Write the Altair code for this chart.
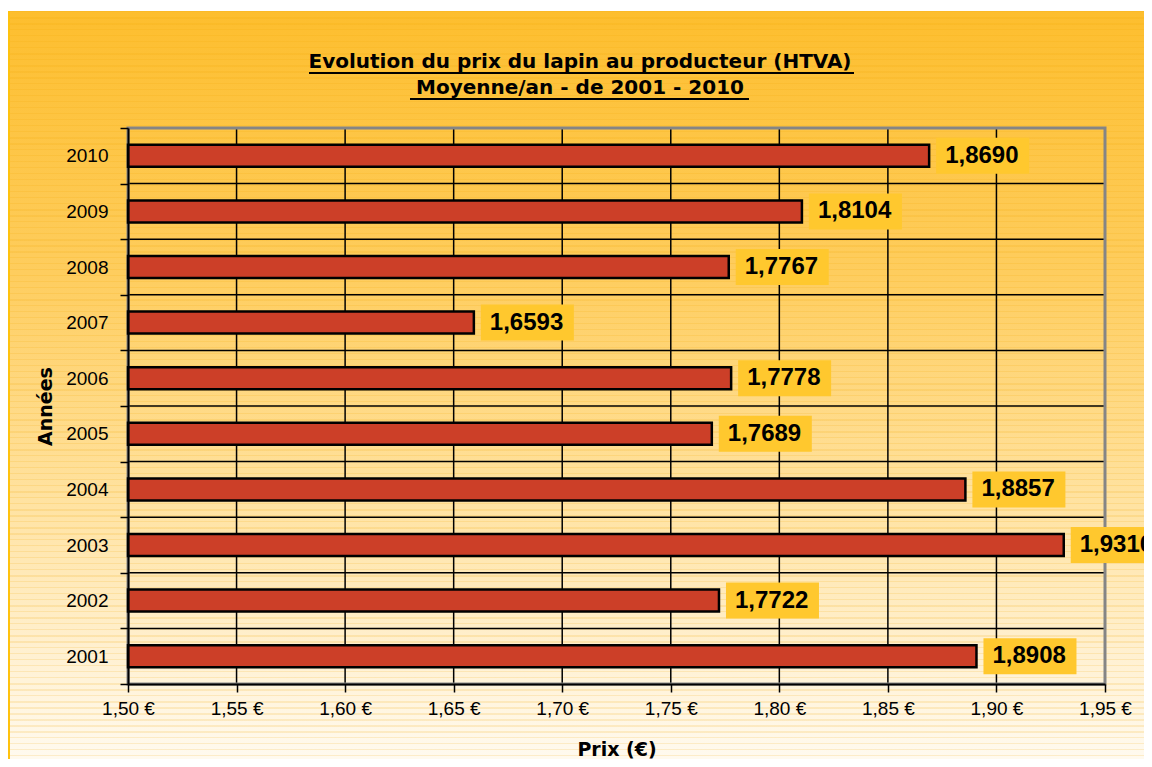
import altair as alt
import pandas as pd

# ---- data ----
years = ["2001", "2002", "2003", "2004", "2005", "2006", "2007", "2008", "2009", "2010"]
prices = [1.8908, 1.7722, 1.9310, 1.8857, 1.7689, 1.7778, 1.6593, 1.7767, 1.8104, 1.8690]
x_ticks = [1.50, 1.55, 1.60, 1.65, 1.70, 1.75, 1.80, 1.85, 1.90, 1.95]
title_lines = ["Evolution du prix du lapin au producteur (HTVA)", "Moyenne/an - de 2001 - 2010"]

# ---- layout / style ----
W, H = 977, 556
PL, PT, PR, PB = 120, 120, 39, 75
BAR_RED = "#CC3F28"
BOX_YELLOW = "#FFC82E"

df = pd.DataFrame({"year": years, "price": prices})
ticks_df = pd.DataFrame({"tick": x_ticks})
one = pd.DataFrame({"k": [0]})

x_scale = alt.Scale(domain=[1.5, 1.95], zero=False, nice=False)
y_scale = alt.Scale(domain=years[::-1], paddingInner=0, paddingOuter=0)

X_AX = alt.Axis(
    values=x_ticks,
    labelExpr="replace(format(datum.value, '.2f'), '.', ',') + ' €'",
    title="Prix (€)", grid=False, labelOverlap=False, labelFlush=False,
    domainColor="black", domainWidth=2, tickColor="black", tickWidth=1.5, tickSize=8,
    labelFont="Liberation Sans", labelFontSize=19, labelColor="black", labelPadding=7,
    titleFont="DejaVu Sans", titleFontSize=19, titleFontWeight="bold", titleColor="black",
    titlePadding=22, zindex=1,
)
Y_AX = alt.Axis(
    title="Années", grid=False, tickBand="extent", labelAngle=0,
    domainColor="black", domainWidth=2, tickColor="black", tickWidth=1.5, tickSize=8,
    labelFont="Liberation Sans", labelFontSize=19, labelColor="black", labelPadding=12,
    titleFont="DejaVu Sans", titleFontSize=19, titleFontWeight="bold", titleColor="black",
    titlePadding=10, zindex=1,
)

# background gradient (whole chart) + faint horizontal stripes
BG_H = H + PB + 117
bg_grad = alt.LinearGradient(
    gradient="linear", x1=0, y1=0, x2=0, y2=1,
    stops=[
        alt.GradientStop(offset=0.0, color="#FDBE2E"),
        alt.GradientStop(offset=0.35, color="#FECD5E"),
        alt.GradientStop(offset=0.65, color="#FFE2A0"),
        alt.GradientStop(offset=0.88, color="#FFF2D6"),
        alt.GradientStop(offset=1.0, color="#FFFAEF"),
    ],
)
stripe_stops = []
period, thick = 6.0, 1.5
yy = 0.0
while yy + thick < BG_H:
    a, b = yy / BG_H, (yy + thick) / BG_H
    stripe_stops += [
        alt.GradientStop(offset=a, color="rgba(240,165,0,0)"),
        alt.GradientStop(offset=a, color="rgba(240,165,0,0.16)"),
        alt.GradientStop(offset=b, color="rgba(240,165,0,0.16)"),
        alt.GradientStop(offset=b, color="rgba(240,165,0,0)"),
    ]
    yy += period
stripe_grad = alt.LinearGradient(gradient="linear", x1=0, y1=0, x2=0, y2=1, stops=stripe_stops)

bg = alt.Chart(one).mark_rect(color=bg_grad).encode(
    x=alt.value(-PL), x2=alt.value(W + PR), y=alt.value(-117), y2=alt.value(H + PB)
)
stripes = alt.Chart(one).mark_rect(color=stripe_grad).encode(
    x=alt.value(-PL), x2=alt.value(W + PR), y=alt.value(-117), y2=alt.value(H + PB)
)
left_edge = alt.Chart(one).mark_rule(color="#FFC20E", strokeWidth=2).encode(
    x=alt.value(-PL + 1), y=alt.value(-117), y2=alt.value(H + PB)
)

vgrid = alt.Chart(ticks_df).mark_rule(color="black", strokeWidth=1.5).encode(
    x=alt.X("tick:Q", scale=x_scale, axis=X_AX)
)
hgrid = alt.Chart(df).mark_rule(color="black", strokeWidth=1.5).encode(
    y=alt.Y("year:N", scale=y_scale, axis=Y_AX, bandPosition=0)
)
frame = alt.Chart(one).mark_rect(fillOpacity=0, stroke="#858585", strokeWidth=3).encode(
    x=alt.value(0), x2=alt.value(W), y=alt.value(0), y2=alt.value(H)
)

bars = alt.Chart(df).mark_bar(size=22, fill=BAR_RED, stroke="black", strokeWidth=2.5).encode(
    x=alt.X("price:Q", scale=x_scale, axis=X_AX),
    x2=alt.datum(x_ticks[0]),
    y=alt.Y("year:N", scale=y_scale, axis=Y_AX),
)
boxes = alt.Chart(df).mark_bar(size=36, fill=BOX_YELLOW, xOffset=7, x2Offset=100).encode(
    x=alt.X("price:Q", scale=x_scale, axis=X_AX),
    x2=alt.X2("price:Q"),
    y=alt.Y("year:N", scale=y_scale, axis=Y_AX),
)
labels = alt.Chart(df).transform_calculate(
    label="replace(format(datum.price, '.4f'), '.', ',')"
).mark_text(
    align="left", baseline="middle", dx=16, font="Liberation Sans",
    fontSize=24, fontWeight="bold", color="black",
).encode(
    x=alt.X("price:Q", scale=x_scale, axis=X_AX),
    y=alt.Y("year:N", scale=y_scale, axis=Y_AX),
    text="label:N",
)

# title (two underlined lines)
TX = 452
t1 = alt.Chart(one).mark_text(
    text=title_lines[0], font="DejaVu Sans", fontSize=20, fontWeight="bold",
    color="black", align="center", baseline="middle",
).encode(x=alt.value(TX), y=alt.value(-66))
t2 = alt.Chart(one).mark_text(
    text=title_lines[1], font="DejaVu Sans", fontSize=20, fontWeight="bold",
    color="black", align="center", baseline="middle",
).encode(x=alt.value(TX), y=alt.value(-40))
ul1 = alt.Chart(one).mark_rule(color="black", strokeWidth=2).encode(
    x=alt.value(181), x2=alt.value(726), y=alt.value(-55)
)
ul2 = alt.Chart(one).mark_rule(color="black", strokeWidth=2).encode(
    x=alt.value(282), x2=alt.value(621), y=alt.value(-29)
)

chart = alt.layer(
    bg, stripes, left_edge, vgrid, hgrid, frame, bars, boxes, labels, t1, t2, ul1, ul2
).properties(
    width=W, height=H,
    padding={"left": PL, "top": PT, "right": PR, "bottom": PB},
    autosize=alt.AutoSizeParams(type="none"),
    background="white",
).configure_view(strokeWidth=0)

chart.save("out.html", embed_options={"renderer": "svg", "actions": False})
